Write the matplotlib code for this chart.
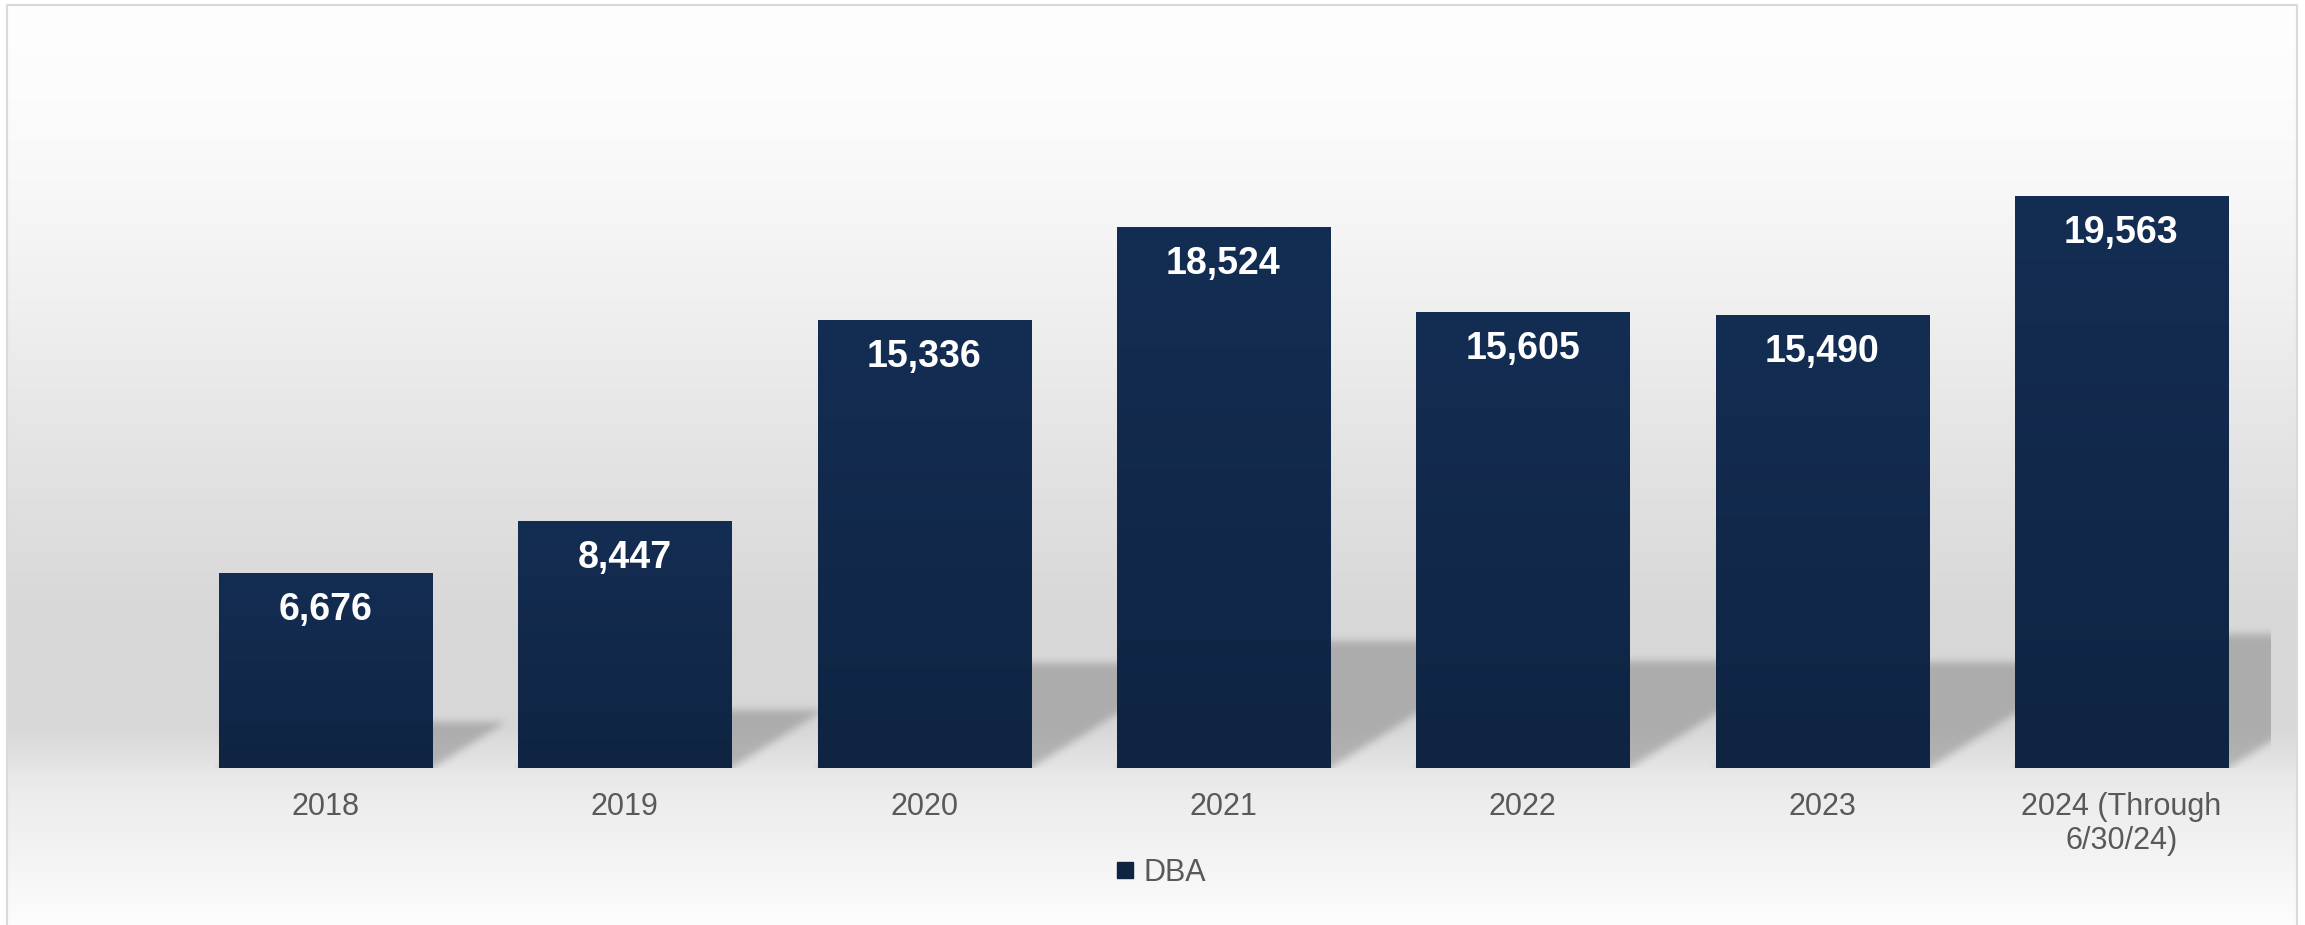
import numpy as np
import matplotlib
matplotlib.use('Agg')
import matplotlib.pyplot as plt
from matplotlib.lines import Line2D
from matplotlib.patches import Rectangle

# chart data
categories = ['2018', '2019', '2020', '2021', '2022', '2023', '2024 (Through\n6/30/24)']
values = [6676, 8447, 15336, 18524, 15605, 15490, 19563]
seriesName = 'DBA'

plt.rcParams['font.family'] = ['Liberation Sans', 'DejaVu Sans']

W_PX, H_PX, DPI = 2305, 925, 100
BAR_TOP = np.array([20, 45, 83]) / 255
BAR_BOTTOM = np.array([15, 36, 66]) / 255
TEXT_GREY = '#595959'

fig = plt.figure(figsize=(W_PX / DPI, H_PX / DPI), dpi=DPI, facecolor='white')

# background: white -> grey wall, lighter floor below the baseline
bg = fig.add_axes([7 / W_PX, 0, (2297 - 7) / W_PX, (H_PX - 5) / H_PX], zorder=0)
stopsY = [5, 100, 200, 300, 400, 500, 600, 650, 730, 760, 775, 800, 867, 925]
stopsV = [254, 252, 247, 240, 232, 224, 217, 215, 216, 226, 233, 237, 245, 253]
rows = np.arange(5, H_PX)
levels = np.interp(rows, stopsY, stopsV) / 255
bgImg = np.repeat(levels[:, None], 3, axis=1)[:, None, :]
bg.imshow(bgImg, aspect='auto', extent=(0, 1, 0, 1), interpolation='bilinear')
bg.axis('off')

fig.patches.append(Rectangle((7 / W_PX, -0.02), (2297 - 7) / W_PX, (H_PX - 5) / H_PX + 0.02,
                             transform=fig.transFigure, fill=False, ec='#d9d9d9', lw=1.6, zorder=10))

# main plot
axL, axR, axBase, axTopPx = 176, 2271, 768, 38
ax = fig.add_axes([axL / W_PX, (H_PX - axBase) / H_PX, (axR - axL) / W_PX, (axBase - axTopPx) / H_PX], zorder=1)
ax.patch.set_alpha(0)
yMax = 25000
x = np.arange(len(categories))
barWidth = 0.712

bars = ax.bar(x, values, width=barWidth, color=BAR_BOTTOM, zorder=3)

# vertical gradient on each bar
grad = np.linspace(0, 1, 256)[:, None]
gradImg = (BAR_TOP[None, :] * (1 - grad) + BAR_BOTTOM[None, :] * grad)[:, None, :]
for b in bars:
    ax.imshow(gradImg, extent=(b.get_x(), b.get_x() + b.get_width(), 0, b.get_height()),
              aspect='auto', zorder=3.5, interpolation='bilinear')

# soft perspective shadows behind the bars
axWpx = axR - axL
ppv = (axBase - axTopPx) / yMax
spacing = axWpx / len(categories)
kRise, slope, pad = 0.235, 1.6, 25
hS = int(max(values) * ppv * kRise) + 30
ys = np.arange(-pad, hS) + 0.5
xs = np.arange(-pad, axWpx + pad) + 0.5
X, Y = np.meshgrid(xs, ys)
Yc = np.clip(Y, 0, None)
mask = np.zeros_like(X)
for xi, v in zip(x, values):
    left = (xi + 0.5 - barWidth / 2) * spacing
    right = (xi + 0.5 + barWidth / 2) * spacing
    rise = v * ppv * kRise
    inside = (Y <= rise) & (X >= left + slope * Yc) & (X <= right + slope * Yc)
    mask[inside] = 1.0

def boxBlur(a, n, axis):
    kernel = np.ones(n) / n
    return np.apply_along_axis(lambda m: np.convolve(m, kernel, mode='same'), axis, a)

for _ in range(2):
    mask = boxBlur(mask, 9, 1)
    mask = boxBlur(mask, 9, 0)
mask = mask[pad:, pad:pad + axWpx]
shadow = np.zeros(mask.shape + (4,))
shadow[..., :3] = 0.45
shadow[..., 3] = mask * 0.42
ax.imshow(shadow, origin='lower', extent=(-0.5, len(categories) - 0.5, 0, hS / ppv),
          aspect='auto', zorder=2, interpolation='bilinear')

for xi, v in zip(x, values):
    ax.annotate('{:,}'.format(v), (xi, v), xytext=(0, -33.5), textcoords='offset points',
                ha='center', va='baseline', color='white', fontsize=27, fontweight='bold', zorder=5)

ax.set_xlim(-0.5, len(categories) - 0.5)
ax.set_ylim(0, yMax)
ax.set_xticks(x, categories)
ax.set_yticks([])
ax.tick_params(axis='x', length=0, pad=17, labelsize=22, labelcolor=TEXT_GREY)
for s in ax.spines.values():
    s.set_visible(False)

handle = Line2D([], [], marker='s', ls='none', markerfacecolor=BAR_BOTTOM,
                markeredgecolor=BAR_BOTTOM, markersize=12.2)
fig.legend([handle], [seriesName], loc='center', bbox_to_anchor=(1160 / W_PX, 1 - 873 / H_PX),
           frameon=False, fontsize=22, labelcolor=TEXT_GREY, handlelength=0.7,
           handletextpad=0.25, borderpad=0)

fig.savefig('out.png', dpi=DPI)
